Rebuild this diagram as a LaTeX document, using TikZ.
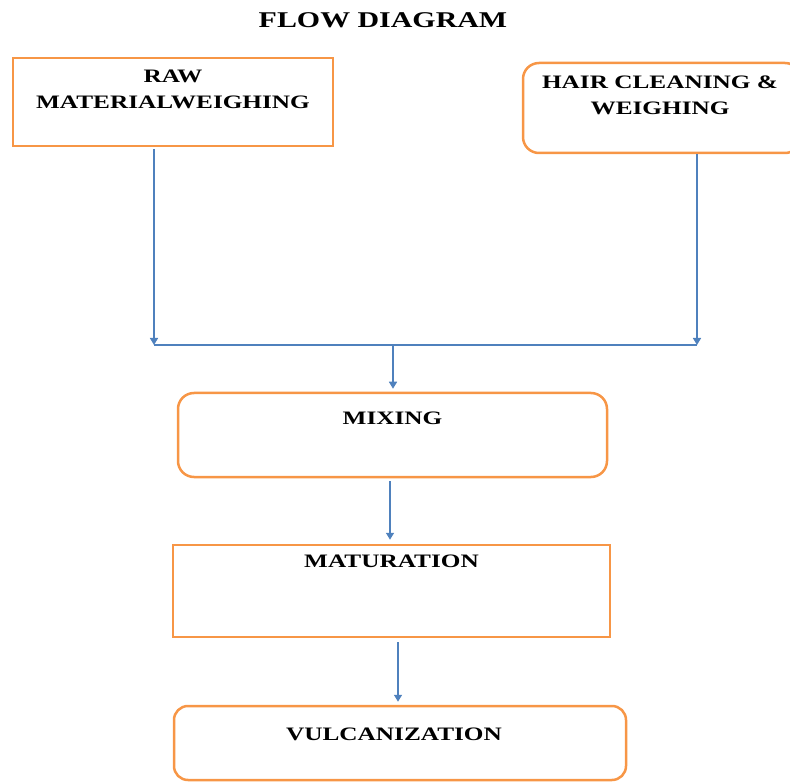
\documentclass[tikz,border=0pt]{standalone}
\usepackage{fontspec}
\newfontfamily\flowfont{Liberation Serif}[FakeStretch=1.33]
\usetikzlibrary{positioning}
\usetikzlibrary{arrows.meta}
\definecolor{boxorange}{RGB}{247,150,70}
\definecolor{flowblue}{RGB}{79,129,189}
\tikzset{% boxes and connectors of the flow
        sqbox/.style={draw=boxorange, line width=2.5pt},
        rdbox/.style={draw=boxorange, line width=2.5pt, rounded corners=16pt},
        boxtext/.style={font=\flowfont\bfseries\fontsize{19}{26}\selectfont, align=center, inner sep=0pt, anchor=north},
        flow/.style={draw=flowblue, line width=1.5pt},
        flowarrow/.style={flow, -{Triangle[width=8pt,length=7pt]}}
        }
\begin{document}
\begin{tikzpicture}[x=1pt,y=-1pt]
\useasboundingbox (0,0) rectangle (790,783);
\clip (0,0) rectangle (790,783);
\node [font=\flowfont\bfseries\fontsize{22.5}{27}\selectfont, inner sep=0pt, anchor=north] (title) at (383,12) {FLOW DIAGRAM};

\node [sqbox, minimum width=320pt, minimum height=88pt] (raw) at (173,102) {};
\node [boxtext, below=13pt of raw.north] (rawtext) {RAW\\MATERIALWEIGHING};
\node [rdbox, minimum width=278pt, minimum height=90pt] (hair) at (662,108) {};
\node [boxtext, below=14pt of hair.north, xshift=-2pt] (hairtext) {HAIR CLEANING \&\\WEIGHING};

\coordinate (joinL) at (154,345);
\coordinate (joinR) at (697,345);
\coordinate (joinM) at (393,345);
\draw[flowarrow, shorten <=2pt] (raw.south -| joinL) -- (joinL);
\draw[flowarrow] (hair.south -| joinR) -- (joinR);
\draw[flow] (joinL) -- (joinR);

\node [rdbox, minimum width=429pt, minimum height=84pt] (mix) at (392.5,435) {};
\node [boxtext, below=20pt of mix.north] (mixtext) {MIXING};
\draw[flowarrow, shorten >=3pt] (joinM) -- (mix.north -| joinM);

\node [sqbox, minimum width=437pt, minimum height=92pt] (mat) at (391.5,591) {};
\node [boxtext, below=11pt of mat.north] (mattext) {MATURATION};
\coordinate (mixout) at ([xshift=-2.5pt]mix.south);
\draw[flowarrow, shorten <=3pt, shorten >=4pt] (mixout) -- (mixout |- mat.north);

\node [rdbox, rounded corners=14pt, minimum width=452pt, minimum height=74pt] (vul) at (400,743) {};
\node [boxtext, below=23pt of vul.north, xshift=-6pt] (vultext) {VULCANIZATION};
\coordinate (matout) at ([xshift=6.5pt]mat.south);
\draw[flowarrow, shorten <=4pt, shorten >=3pt] (matout) -- (matout |- vul.north);
\end{tikzpicture}
\end{document}
